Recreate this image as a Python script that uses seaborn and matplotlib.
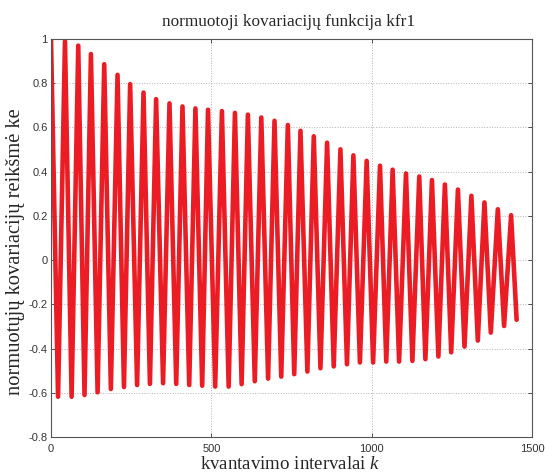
import matplotlib
matplotlib.use("Agg")
import matplotlib.pyplot as plt
import seaborn as sns
import pandas as pd

# Peaks of the covariance function (k, value)
peak_k = [0, 43.6, 85, 124.5, 166, 207.5, 246.8, 288.5, 327.8, 369.5, 410, 450.4, 489.6,
          533, 573.6, 614, 655.8, 697, 738.6, 778, 819.5, 861, 902.6, 943, 984.4,
          1026, 1065.4, 1107, 1148.4, 1188, 1228.4, 1269, 1311, 1351.7, 1393.4, 1434.8]
peak_v = [1.0, 0.99, 0.970, 0.932, 0.886, 0.838, 0.796, 0.758, 0.728, 0.709, 0.695, 0.686, 0.680,
          0.674, 0.666, 0.658, 0.645, 0.630, 0.611, 0.585, 0.560, 0.531, 0.501, 0.474, 0.449,
          0.427, 0.409, 0.392, 0.378, 0.362, 0.342, 0.319, 0.291, 0.261, 0.230, 0.203]
# Troughs (k, value)
trough_k = [22, 64.3, 104.5, 145.3, 186.7, 227.5, 268.5, 308.5, 349.5, 390.5, 431, 471.5,
            512, 554, 594.5, 635.5, 677, 718, 758.5, 799.5, 840.3, 881.7, 923, 963.3,
            1004.5, 1045.5, 1085.5, 1127, 1167.5, 1208, 1248, 1289.5, 1331, 1371.5, 1413]
trough_v = [-0.618, -0.618, -0.610, -0.598, -0.583, -0.574, -0.565, -0.560, -0.557, -0.560, -0.565, -0.568,
            -0.572, -0.572, -0.561, -0.548, -0.536, -0.527, -0.516, -0.504, -0.489, -0.481, -0.471, -0.463,
            -0.463, -0.459, -0.459, -0.456, -0.448, -0.436, -0.417, -0.391, -0.364, -0.328, -0.298]
# Last sample
end_k = [1452]
end_v = [-0.27]

x_ticks = [0, 500, 1000, 1500]
y_ticks = [-0.8, -0.6, -0.4, -0.2, 0, 0.2, 0.4, 0.6, 0.8, 1]
y_tick_labels = ["-0.8", "-0.6", "-0.4", "-0.2", "0", "0.2", "0.4", "0.6", "0.8", "1"]

title = "normuotoji kovariacijų funkcija kfr1"
xlabel = "kvantavimo intervalai $k$"
ylabel = "normuotųjų kovariacijų reikšmė ke"

df = pd.DataFrame({
    "k": peak_k + trough_k + end_k,
    "v": peak_v + trough_v + end_v,
}).sort_values("k")

sns.set_theme(style="white")
plt.rcParams["font.family"] = ["Liberation Sans", "DejaVu Sans"]
plt.rcParams["mathtext.fontset"] = "custom"
plt.rcParams["mathtext.it"] = "Liberation Serif:italic"
plt.rcParams["mathtext.rm"] = "Liberation Serif"

W, H = 545, 473
fig = plt.figure(figsize=(W / 100, H / 100), dpi=100)
ax = fig.add_axes([51 / W, 1 - 437 / H, (532 - 51) / W, (437 - 39) / H])

sns.lineplot(data=df, x="k", y="v", ax=ax, color="#EC1C24", linewidth=3.3,
             estimator=None, sort=True, solid_joinstyle="round", solid_capstyle="round")

ax.set_xlim(0, 1500)
ax.set_ylim(-0.8, 1.0)
ax.set_xticks(x_ticks)
ax.set_xticklabels([str(t) for t in x_ticks])
ax.set_yticks(y_ticks)
ax.set_yticklabels(y_tick_labels)
ax.tick_params(axis="both", labelsize=8, colors="#333333", direction="in", length=3,
               width=0.6, top=True, right=True, left=True, bottom=True)
ax.tick_params(axis="x", pad=5)
ax.tick_params(axis="y", pad=2.5)
ax.grid(True, linestyle=":", color="#b4b4b4", linewidth=0.7)
for s in ax.spines.values():
    s.set_color("#555555")
    s.set_linewidth(0.8)
ax.set_xlabel("")
ax.set_ylabel("")

serif = ["Liberation Serif", "DejaVu Serif"]
fig.text(289 / W, 1 - 26.5 / H, title, family=serif, fontsize=12.4,
         ha="center", va="baseline")
fig.text(290 / W, 1 - 468.5 / H, xlabel, family=serif, fontsize=13.6,
         ha="center", va="baseline")
fig.text(20 / W, 1 - 252 / H, ylabel, family=serif, fontsize=14.8,
         ha="center", va="baseline", rotation=90, rotation_mode="anchor")

fig.savefig("out.png", dpi=100)
